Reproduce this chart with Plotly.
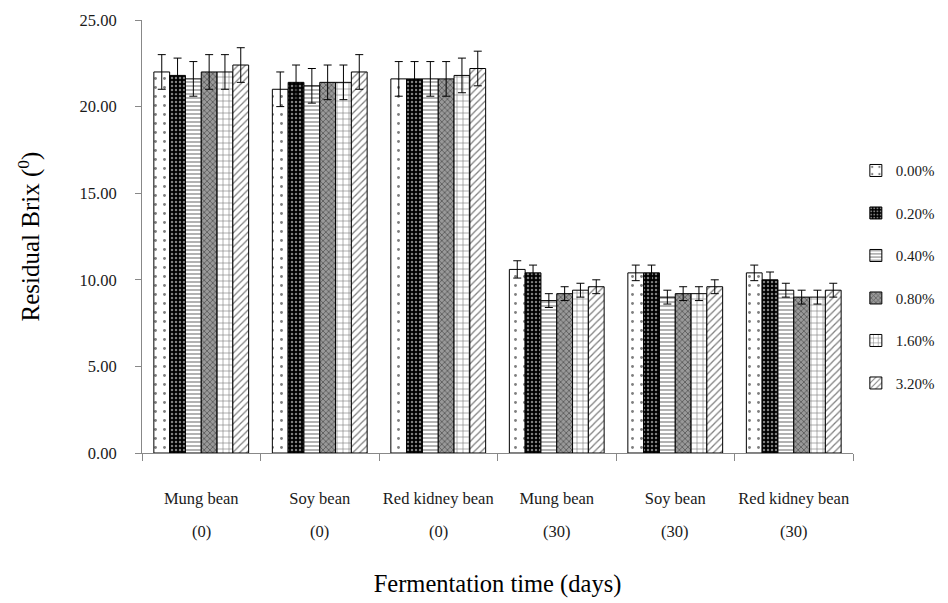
import plotly.graph_objects as go

bean_names = ["Mung bean", "Soy bean", "Red kidney bean", "Mung bean", "Soy bean", "Red kidney bean"]
day_labels = ["(0)", "(0)", "(0)", "(30)", "(30)", "(30)"]
cat_keys = ["mb0", "sb0", "rk0", "mb30", "sb30", "rk30"]

series_names = ["0.00%", "0.20%", "0.40%", "0.80%", "1.60%", "3.20%"]

v_000 = [22.0, 21.0, 21.6, 10.6, 10.4, 10.4]
v_020 = [21.8, 21.4, 21.6, 10.4, 10.4, 10.0]
v_040 = [21.6, 21.2, 21.6, 8.8, 9.0, 9.4]
v_080 = [22.0, 21.4, 21.6, 9.2, 9.2, 9.0]
v_160 = [22.0, 21.4, 21.8, 9.4, 9.2, 9.0]
v_320 = [22.4, 22.0, 22.2, 9.6, 9.6, 9.4]

e_000 = [1.0, 1.0, 1.0, 0.5, 0.45, 0.45]
e_020 = [1.0, 1.0, 1.0, 0.45, 0.45, 0.45]
e_040 = [1.0, 1.0, 1.0, 0.4, 0.4, 0.4]
e_080 = [1.0, 1.0, 1.0, 0.4, 0.4, 0.4]
e_160 = [1.0, 1.0, 1.0, 0.4, 0.4, 0.4]
e_320 = [1.0, 1.0, 1.0, 0.4, 0.4, 0.4]

values = [v_000, v_020, v_040, v_080, v_160, v_320]
errors = [e_000, e_020, e_040, e_080, e_160, e_320]

patterns = [
    dict(shape=".", fgcolor="black", bgcolor="white", size=9, solidity=0.08),
    dict(shape=".", fgcolor="white", bgcolor="black", size=4, solidity=0.3),
    dict(shape="-", fgcolor="black", bgcolor="white", size=4, solidity=0.3),
    dict(shape="x", fgcolor="#222222", bgcolor="#999999", size=4, solidity=0.4),
    dict(shape="+", fgcolor="black", bgcolor="white", size=6, solidity=0.2),
    dict(shape="/", fgcolor="black", bgcolor="white", size=5, solidity=0.25),
]

font_family = "Liberation Serif, Times New Roman, serif"
text_color = "#1a1a1a"

fig = go.Figure()
for i, name in enumerate(series_names):
    fig.add_trace(go.Bar(
        x=cat_keys, y=values[i], name=name,
        legendgroup=name,
        marker=dict(color="white", line=dict(color="black", width=1), pattern=patterns[i]),
        error_y=dict(type="data", array=errors[i], color="black", thickness=1, width=4),
    ))

for key, day in zip(cat_keys, day_labels):
    fig.add_annotation(x=key, xref="x", y=-0.1824, yref="paper", text=day,
                       showarrow=False, yanchor="middle", xanchor="center",
                       font=dict(size=16.5, family=font_family, color=text_color))

fig.update_layout(
    width=940, height=595,
    margin=dict(l=134, r=95, t=12, b=150, autoexpand=False),
    paper_bgcolor="white", plot_bgcolor="white",
    barmode="group", bargap=0.2, bargroupgap=0,
    font=dict(family=font_family, color=text_color, size=16),
    legend=dict(x=1.004, y=0.69, xanchor="left", yanchor="top",
                font=dict(size=15, family=font_family, color=text_color),
                tracegroupgap=20, traceorder="grouped", itemwidth=30),
    xaxis=dict(
        type="category", tickmode="array", tickvals=cat_keys, ticktext=bean_names,
        tickson="boundaries", ticks="outside", ticklen=7, tickcolor="#888888",
        showline=True, linecolor="#888888", linewidth=1, showgrid=False,
        tickfont=dict(size=16.5, family=font_family, color=text_color),
        tickangle=0, ticklabelstandoff=30, automargin=False,
        title=dict(text="Fermentation time (days)",
                   font=dict(size=24.5, family=font_family, color="black"), standoff=68),
    ),
    yaxis=dict(
        range=[0, 25], tickvals=[0, 5, 10, 15, 20, 25], tickformat=".2f",
        ticks="outside", ticklen=6, tickcolor="#888888",
        showline=True, linecolor="#888888", linewidth=1, showgrid=False, zeroline=False,
        tickfont=dict(size=16.5, family=font_family, color=text_color),
        ticklabelstandoff=15, automargin=False,
        title=dict(text="Residual Brix (<sup>0</sup>)",
                   font=dict(size=25, family=font_family, color="black"), standoff=32),
    ),
)

fig.write_html("out.html")
